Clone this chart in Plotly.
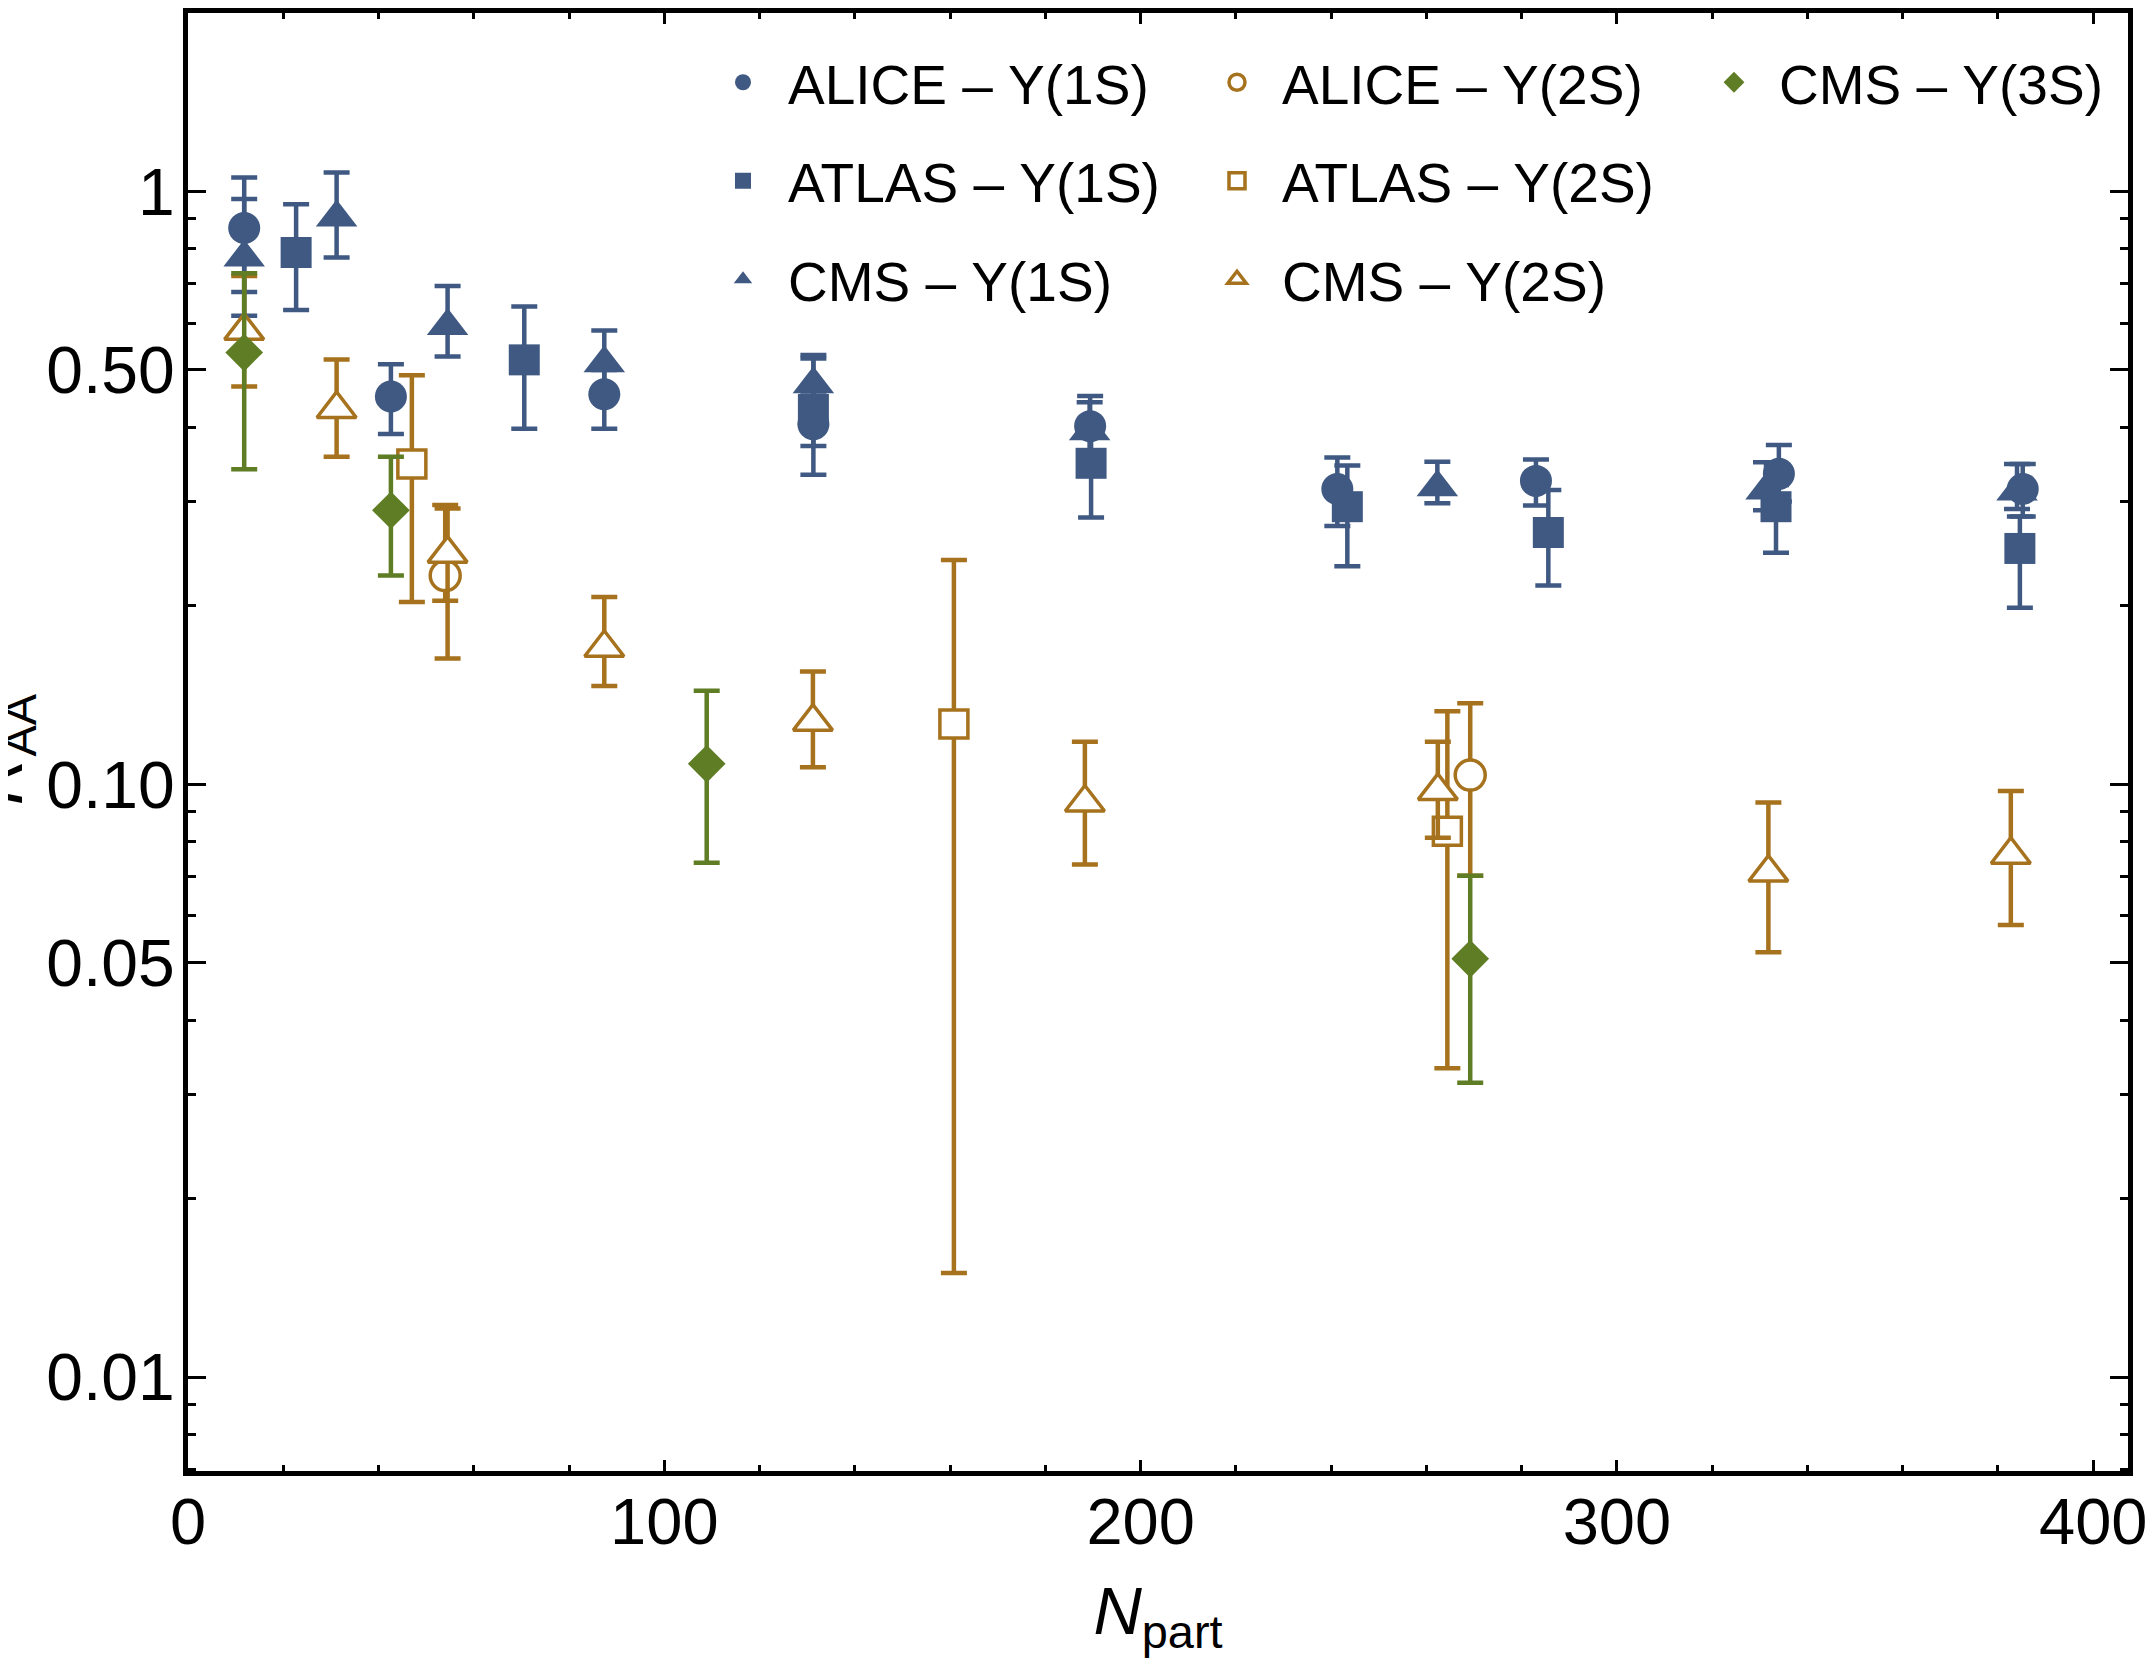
import plotly.graph_objects as go
import math

# ---------------- data ----------------
alice1s_n   = [11.8, 42.6, 87.4, 131.3, 189.4, 241.3, 283.0, 334.0, 385.2]
alice1s_v   = [0.868, 0.451, 0.455, 0.405, 0.402, 0.315, 0.325, 0.334, 0.315]
alice1s_hi  = [1.056, 0.511, 0.500, 0.460, 0.452, 0.356, 0.353, 0.3735, 0.347]
alice1s_lo  = [0.677, 0.390, 0.398, 0.333, 0.360, 0.2727, 0.2955, 0.300, 0.283]

atlas1s_n   = [22.7, 70.6, 131.3, 189.6, 243.4, 285.6, 333.4, 384.6]
atlas1s_v   = [0.789, 0.520, 0.429, 0.348, 0.294, 0.266, 0.294, 0.250]
atlas1s_hi  = [0.952, 0.640, 0.523, 0.390, 0.345, 0.3136, 0.320, 0.283]
atlas1s_lo  = [0.631, 0.398, 0.372, 0.282, 0.2334, 0.2166, 0.2458, 0.1986]

cms1s_n     = [11.8, 31.2, 54.5, 87.4, 131.3, 189.3, 262.3, 331.3, 384.0]
cms1s_v     = [0.774, 0.904, 0.593, 0.513, 0.473, 0.394, 0.317, 0.313, 0.312]
cms1s_hi    = [0.971, 1.077, 0.693, 0.583, 0.530, 0.441, 0.350, 0.3494, 0.347]
cms1s_lo    = [0.617, 0.774, 0.527, 0.460, 0.420, 0.355, 0.298, 0.290, 0.2915]

alice2s_n   = [54.0, 269.2]
alice2s_v   = [0.225, 0.1037]
alice2s_hi  = [0.296, 0.137]
alice2s_lo  = [0.204, 0.0701]

atlas2s_n   = [47.0, 160.8, 264.4]
atlas2s_v   = [0.347, 0.1264, 0.0834]
atlas2s_hi  = [0.490, 0.239, 0.1329]
atlas2s_lo  = [0.203, 0.0150, 0.0332]

cms2s_n     = [11.8, 31.2, 54.5, 87.4, 131.2, 188.3, 262.4, 331.8, 382.7]
cms2s_v     = [0.582, 0.4297, 0.245, 0.170, 0.1276, 0.0932, 0.0975, 0.0710, 0.0761]
cms2s_hi    = [0.720, 0.521, 0.292, 0.207, 0.155, 0.118, 0.118, 0.0932, 0.0975]
cms2s_lo    = [0.469, 0.357, 0.163, 0.1465, 0.1069, 0.0733, 0.0813, 0.0521, 0.0579]

cms3s_n     = [11.8, 42.6, 108.9, 269.2]
cms3s_v     = [0.535, 0.290, 0.1083, 0.0508]
cms3s_hi    = [0.728, 0.357, 0.1438, 0.0701]
cms3s_lo    = [0.340, 0.225, 0.0738, 0.0314]

x_tickvals = [0, 100, 200, 300, 400]
x_ticktext = ["0", "100", "200", "300", "400"]
x_minor = [v for v in range(20, 400, 20) if v % 100 != 0]
y_tickvals = [0.01, 0.05, 0.1, 0.5, 1]
y_ticktext = ["0.01", "0.05", "0.10", "0.50", "1"]
y_minor = [0.007, 0.008, 0.009, 0.02, 0.03, 0.04, 0.06, 0.07, 0.08, 0.09,
           0.2, 0.3, 0.4, 0.6, 0.7, 0.8, 0.9]

BLUE = "#3F5982"
BROWN = "#A6721D"
GREEN = "#5E7D24"
FONT = "Liberation Sans, Arial, sans-serif"

# the page body adds an 8px margin around the figure
OFF = 8
W, H = 2155 - 2 * OFF, 1666 - 2 * OFF
ML = 188 - OFF
MT = 13 - OFF
MR = W - (2128 - OFF)
MB = H - (1471 - OFF)
PW, PH = W - ML - MR, H - MT - MB


def px2paper_x(page_px):
    return (page_px - OFF - ML) / PW


def px2paper_y(page_py):
    return 1 - (page_py - OFF - MT) / PH


def trace(name, n, v, hi, lo, symbol, size, color, filled, legend):
    plus = [h - c for h, c in zip(hi, v)]
    minus = [c - l for l, c in zip(lo, v)]
    if filled:
        marker = dict(symbol=symbol, size=size, color=color, line=dict(width=0))
    else:
        marker = dict(symbol=symbol, size=size, color="white",
                      line=dict(width=3.5, color=color))
    return go.Scatter(
        x=n, y=v, mode="markers", name=name, legend=legend, legendgroup=name,
        marker=marker,
        error_y=dict(type="data", symmetric=False, array=plus, arrayminus=minus,
                     color=color, thickness=4.5, width=13),
        cliponaxis=False,
    )


fig = go.Figure()
fig.add_trace(trace("ALICE – Υ(1S)", alice1s_n, alice1s_v, alice1s_hi, alice1s_lo,
                    "circle", 32, BLUE, True, "legend"))
fig.add_trace(trace("ATLAS – Υ(1S)", atlas1s_n, atlas1s_v, atlas1s_hi, atlas1s_lo,
                    "square", 31, BLUE, True, "legend"))
fig.add_trace(trace("CMS – Υ(1S)", cms1s_n, cms1s_v, cms1s_hi, cms1s_lo,
                    "triangle-up", 36, BLUE, True, "legend"))
fig.add_trace(trace("ALICE – Υ(2S)", alice2s_n, alice2s_v, alice2s_hi, alice2s_lo,
                    "circle", 30, BROWN, False, "legend2"))
fig.add_trace(trace("ATLAS – Υ(2S)", atlas2s_n, atlas2s_v, atlas2s_hi, atlas2s_lo,
                    "square", 28, BROWN, False, "legend2"))
fig.add_trace(trace("CMS – Υ(2S)", cms2s_n, cms2s_v, cms2s_hi, cms2s_lo,
                    "triangle-up", 34, BROWN, False, "legend2"))
fig.add_trace(trace("CMS – Υ(3S)", cms3s_n, cms3s_v, cms3s_hi, cms3s_lo,
                    "diamond", 29, GREEN, True, "legend3"))

legend_common = dict(
    font=dict(family=FONT, size=55, color="black"),
    bgcolor="rgba(0,0,0,0)", borderwidth=0,
    xanchor="left", yanchor="top",
    itemwidth=80, tracegroupgap=24, traceorder="grouped",
    orientation="v",
)

LEG_TOP = 40
fig.update_layout(
    width=W, height=H,
    margin=dict(l=ML, r=MR, t=MT, b=MB, pad=0),
    paper_bgcolor="white", plot_bgcolor="white",
    font=dict(family=FONT, color="black"),
    showlegend=True,
    legend=dict(x=px2paper_x(698), y=px2paper_y(LEG_TOP), **legend_common),
    legend2=dict(x=px2paper_x(1192), y=px2paper_y(LEG_TOP), **legend_common),
    legend3=dict(x=px2paper_x(1689), y=px2paper_y(LEG_TOP), **legend_common),
    xaxis=dict(
        range=[0, 407.3], showgrid=False, zeroline=False,
        showline=True, linecolor="black", linewidth=5, mirror="ticks",
        ticks="inside", ticklen=11, tickwidth=3, tickcolor="black",
        tickvals=x_tickvals, ticktext=x_ticktext,
        tickfont=dict(family=FONT, size=65, color="black"),
        ticklabelstandoff=-10, ticklabeloverflow="allow",
        minor=dict(tickvals=x_minor, ticks="inside", ticklen=6, tickwidth=2.5,
                   tickcolor="black", showgrid=False),
        title=dict(text="<i>N</i><sub>part</sub>",
                   font=dict(family=FONT, size=67, color="black"), standoff=40),
        automargin=False,
    ),
    yaxis=dict(
        type="log", range=[math.log10(0.00695), math.log10(2.0)],
        showgrid=False, zeroline=False,
        showline=True, linecolor="black", linewidth=5, mirror="ticks",
        ticks="inside", ticklen=18, tickwidth=3, tickcolor="black",
        tickvals=y_tickvals, ticktext=y_ticktext,
        tickfont=dict(family=FONT, size=66, color="black"),
        ticklabelstandoff=-5, ticklabeloverflow="allow",
        minor=dict(tickvals=y_minor, ticks="inside", ticklen=8, tickwidth=2.5,
                   tickcolor="black", showgrid=False),
        automargin=False,
    ),
    annotations=[dict(
        text="<i>R</i><sub>AA</sub>", textangle=-90,
        xref="paper", yref="paper", x=px2paper_x(4), y=px2paper_y(749),
        xanchor="center", yanchor="middle", showarrow=False,
        font=dict(family=FONT, size=67, color="black"),
    )],
)

fig.write_html("out.html")
